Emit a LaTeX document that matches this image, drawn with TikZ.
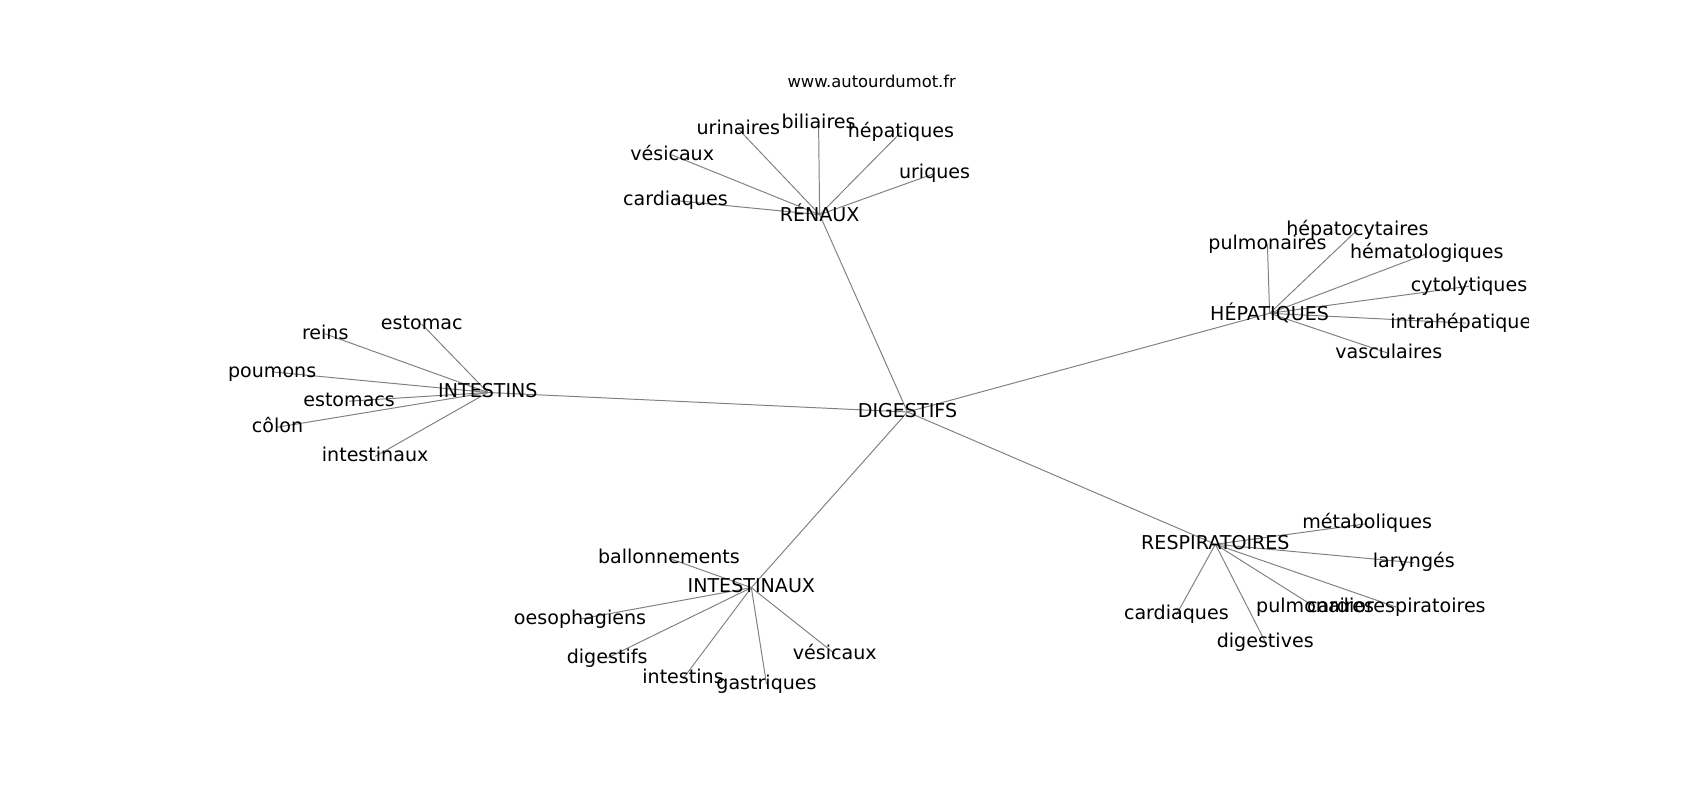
\documentclass[tikz,border=0pt]{standalone}
\usepackage{fontspec}
\setmainfont{DejaVu Sans}
\usetikzlibrary{backgrounds}
\tikzset{
  lbl/.style={font=\fontsize{17.6}{20}\selectfont, inner sep=0pt, anchor=center, text height=1.21em, text depth=0.24em},
  tall/.style={text height=1.55em},
  ttl/.style={font=\fontsize{15.1}{18}\selectfont, inner sep=0pt, anchor=center, text height=1.2em, text depth=0.24em},
  edge/.style={draw=black!50, line width=0.9pt}
}
\begin{document}
\begin{tikzpicture}[x=1pt,y=-1pt]
\useasboundingbox (0,0) rectangle (1568,738);
\node[ttl] (title) at (804,76) {www.autourdumot.fr};
\begin{scope}
\clip (196,88) rectangle (1410,657);
% hubs
\node[lbl] (dig) at (837,380) {DIGESTIFS};
\node[lbl,tall] (ren) at (756,198) {RÉNAUX};
\node[lbl,tall] (hep) at (1171,289) {HÉPATIQUES};
\node[lbl] (ints) at (450,362) {INTESTINS};
\node[lbl] (intx) at (693,542) {INTESTINAUX};
\node[lbl] (resp) at (1121,502) {RESPIRATOIRES};
% RÉNAUX leaves
\node[lbl] (r1) at (681,119) {urinaires};
\node[lbl] (r2) at (755,114) {biliaires};
\node[lbl] (r3) at (831,122) {hépatiques};
\node[lbl] (r4) at (620,143) {vésicaux};
\node[lbl] (r5) at (862,160) {uriques};
\node[lbl] (r6) at (623,185) {cardiaques};
% HÉPATIQUES leaves
\node[lbl] (h1) at (1169,225) {pulmonaires};
\node[lbl] (h2) at (1252,212) {hépatocytaires};
\node[lbl] (h3) at (1316,234) {hématologiques};
\node[lbl] (h4) at (1355,264) {cytolytiques};
\node[lbl] (h5) at (1352,298) {intrahépatiques};
\node[lbl] (h6) at (1281,326) {vasculaires};
% INTESTINS leaves
\node[lbl] (i1) at (300,308) {reins};
\node[lbl] (i2) at (389,299) {estomac};
\node[lbl] (i3) at (251,343) {poumons};
\node[lbl] (i4) at (322,370) {estomacs};
\node[lbl] (i5) at (256,394) {côlon};
\node[lbl] (i6) at (346,421) {intestinaux};
% INTESTINAUX leaves
\node[lbl] (x1) at (617,515) {ballonnements};
\node[lbl] (x2) at (535,571) {oesophagiens};
\node[lbl] (x3) at (560,607) {digestifs};
\node[lbl] (x4) at (630,626) {intestins};
\node[lbl] (x5) at (707,631) {gastriques};
\node[lbl] (x6) at (770,603) {vésicaux};
% RESPIRATOIRES leaves
\node[lbl] (p1) at (1261,483) {métaboliques};
\node[lbl] (p2) at (1304,519) {laryngés};
\node[lbl] (p3) at (1085,567) {cardiaques};
\node[lbl] (p4) at (1167,592) {digestives};
\node[lbl] (p5) at (1213,560) {pulmonaires};
\node[lbl] (p6) at (1288,560) {cardiorespiratoires};
\end{scope}
\begin{pgfonlayer}{background}
\foreach \h in {ren,hep,ints,intx,resp}
  \draw[edge] (dig.center) -- (\h.center);
\foreach \l in {r1,r2,r3,r4,r5,r6}
  \draw[edge] (ren.center) -- (\l.center);
\foreach \l in {h1,h2,h3,h4,h5,h6}
  \draw[edge] (hep.center) -- (\l.center);
\foreach \l in {i1,i2,i3,i4,i5,i6}
  \draw[edge] (ints.center) -- (\l.center);
\foreach \l in {x1,x2,x3,x4,x5,x6}
  \draw[edge] (intx.center) -- (\l.center);
\foreach \l in {p1,p2,p3,p4,p5,p6}
  \draw[edge] (resp.center) -- (\l.center);
\end{pgfonlayer}
\end{tikzpicture}
\end{document}
